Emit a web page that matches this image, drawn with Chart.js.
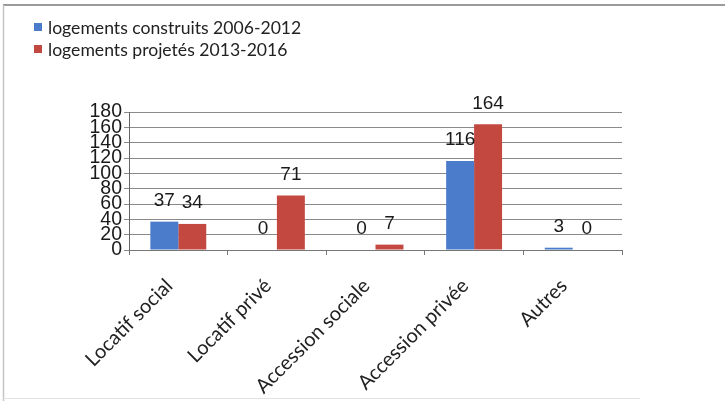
<!DOCTYPE html>
<html>
<head>
<meta charset="utf-8">
<script src="https://cdn.jsdelivr.net/npm/chart.js@4/dist/chart.umd.min.js"></script>
<style>
  html, body { margin: 0; padding: 0; background: #fff; }
  #wrap { position: relative; width: 725px; height: 401px; }
  #legend { position: absolute; left: 34px; top: 16px; font-family: Lato, "Open Sans", sans-serif; font-size: 17.6px; color: #222; }
  .item { display: flex; align-items: center; height: 22px; }
  .sw { width: 8px; height: 8px; margin-right: 6px; }
</style>
</head>
<body>
<div id="wrap">
  <canvas id="c" width="725" height="401"></canvas>
  <div id="legend"></div>
</div>
<script>
const categories = ["Locatif social", "Locatif privé", "Accession sociale", "Accession privée", "Autres"];
const seriesNames = ["logements construits 2006-2012", "logements projetés 2013-2016"];
const construits = [37, 0, 0, 116, 3];
const projetes = [34, 71, 7, 164, 0];
const yTicks = [0, 20, 40, 60, 80, 100, 120, 140, 160, 180];
const colors = ["#4B7BCB", "#C34840"];

const legendEl = document.getElementById('legend');
seriesNames.forEach((n, i) => {
  const d = document.createElement('div');
  d.className = 'item';
  d.innerHTML = '<span class="sw" style="background:' + colors[i] + '"></span><span>' + n + '</span>';
  legendEl.appendChild(d);
});

const frame = {
  id: 'frame',
  beforeDraw(chart) {
    const ctx = chart.ctx;
    ctx.save();
    ctx.strokeStyle = '#9a9a9a';
    ctx.lineWidth = 2;
    ctx.beginPath(); ctx.moveTo(3, 5); ctx.lineTo(725, 5); ctx.stroke();
    ctx.strokeStyle = '#c4c4c4';
    ctx.lineWidth = 1.5;
    ctx.beginPath(); ctx.moveTo(3.5, 5); ctx.lineTo(3.5, 401); ctx.stroke();
    ctx.strokeStyle = '#e2e2e2';
    ctx.lineWidth = 1;
    ctx.beginPath(); ctx.moveTo(3, 398.5); ctx.lineTo(640, 398.5); ctx.stroke();
    ctx.restore();
  }
};

const valueLabels = {
  id: 'valueLabels',
  afterDatasetsDraw(chart) {
    const ctx = chart.ctx;
    ctx.save();
    ctx.font = '19px "Liberation Sans", Arial, sans-serif';
    ctx.fillStyle = '#1a1a1a';
    ctx.textAlign = 'center';
    ctx.textBaseline = 'middle';
    chart.data.datasets.forEach((ds, di) => {
      chart.getDatasetMeta(di).data.forEach((bar, i) => {
        ctx.fillText(String(ds.data[i]), bar.x, bar.y - 21);
      });
    });
    ctx.restore();
  }
};

new Chart(document.getElementById('c'), {
  type: 'bar',
  data: {
    labels: categories,
    datasets: [
      { label: seriesNames[0], data: construits, backgroundColor: colors[0], categoryPercentage: 0.567, barPercentage: 1.0 },
      { label: seriesNames[1], data: projetes, backgroundColor: colors[1], categoryPercentage: 0.567, barPercentage: 1.0 }
    ]
  },
  options: {
    responsive: false,
    animation: false,
    events: [],
    layout: { padding: { left: 0, top: 112, right: 103, bottom: 0 } },
    plugins: { legend: { display: false }, tooltip: { enabled: false } },
    scales: {
      x: {
        afterFit(s) { s.height = 151; },
        border: { display: true, color: '#777', width: 1 },
        grid: { offset: true, drawOnChartArea: false, drawTicks: true, tickLength: 5, color: '#777' },
        ticks: { minRotation: 45, maxRotation: 45, padding: 19, labelOffset: -9, autoSkip: false, color: '#222', font: { family: 'Lato, "Open Sans", sans-serif', size: 20 } }
      },
      y: {
        min: 0, max: 180,
        afterFit(s) { s.width = 129; },
        afterBuildTicks(s) { s.ticks = yTicks.map(v => ({ value: v })); },
        border: { display: true, color: '#666', width: 1 },
        grid: { color: '#8a8a8a', lineWidth: 1, drawTicks: true, tickLength: 5 },
        ticks: { padding: 2, autoSkip: false, color: '#1a1a1a', font: { family: '"Liberation Sans", Arial, sans-serif', size: 19.5, lineHeight: 1 } }
      }
    }
  },
  plugins: [frame, valueLabels]
});
</script>
</body>
</html>
